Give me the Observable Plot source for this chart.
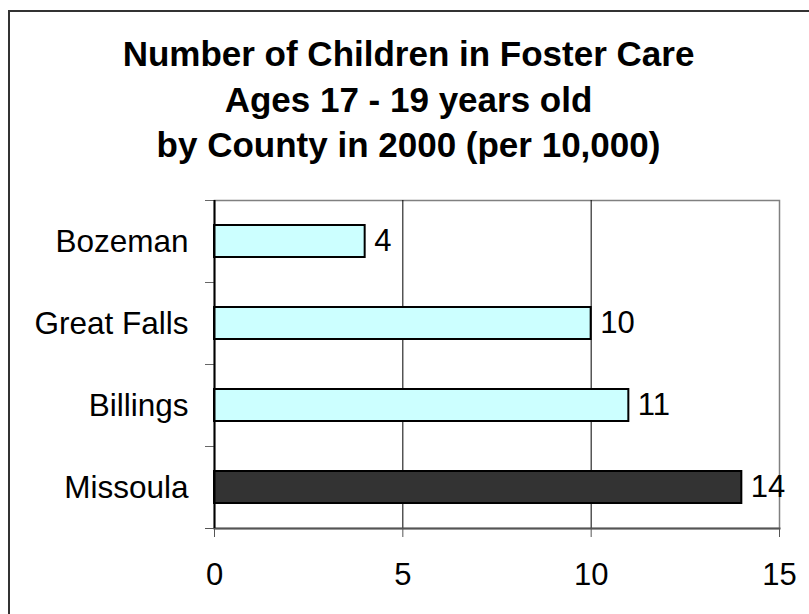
<!DOCTYPE html>
<html>
<head>
<meta charset="utf-8">
<script src="https://cdn.jsdelivr.net/npm/d3@7"></script>
<script src="https://cdn.jsdelivr.net/npm/@observablehq/plot@0.6"></script>
<style>
  html, body { margin: 0; padding: 0; width: 809px; height: 614px; overflow: hidden; background: #fff; }
  #border { position: absolute; left: 8px; top: 10px; width: 900px; height: 700px; border: 2px solid #333; box-sizing: border-box; }
  #title { position: absolute; left: 0; top: 31px; width: 817px; text-align: center; font-family: "Liberation Sans", Arial, sans-serif; font-weight: bold; font-size: 35px; line-height: 45.5px; color: #000; }
  #chart { position: absolute; left: 0; top: 180px; }
</style>
</head>
<body>
<div id="border"></div>
<div id="title">Number of Children in Foster Care<br>Ages 17 - 19 years old<br>by County in 2000 (per 10,000)</div>
<div id="chart"></div>
<script>
const counties = ["Bozeman", "Great Falls", "Billings", "Missoula"];
const values = [4, 10, 11, 14];
const barColors = ["#CCFFFF", "#CCFFFF", "#CCFFFF", "#333333"];
const xTicks = [0, 5, 10, 15];

const data = counties.map((c, i) => ({county: c, value: values[i], color: barColors[i]}));

const chart = Plot.plot({
  width: 809,
  height: 434,
  marginLeft: 214,
  marginRight: 30,
  marginTop: 20,
  marginBottom: 86,
  style: {fontFamily: "'Liberation Sans', Arial, sans-serif", fontSize: "31px", color: "#000", background: "transparent"},
  x: {domain: [0, 15], ticks: xTicks},
  y: {domain: counties, padding: 0},
  color: {type: "identity"},
  marks: [
    Plot.frame({stroke: "#808080", strokeWidth: 1.5}),
    Plot.ruleX(xTicks.filter(t => t > 0 && t < 15), {stroke: "#000", strokeWidth: 1}),
    Plot.barX(data, {x: "value", y: "county", fill: "color", stroke: "#000", strokeWidth: 2, insetTop: 25, insetBottom: 25}),
    Plot.text(data, {x: "value", y: "county", text: d => String(d.value), textAnchor: "start", dx: 9, fontSize: 31}),
    Plot.axisX({ticks: xTicks, tickSize: 9, tickPadding: 25, fontSize: 31, stroke: "#555", label: null}),
    Plot.axisY({tickSize: 0, tickPadding: 26, fontSize: 31.5, label: null}),
    Plot.axisY({tickSize: 9, fill: "none", stroke: "#666", dy: -41, label: null}),
    Plot.axisY({ticks: [counties[counties.length - 1]], tickSize: 9, fill: "none", stroke: "#555", dy: 41, label: null}),
    Plot.frame({anchor: "bottom", stroke: "#555", strokeWidth: 2}),
    Plot.ruleX([0], {stroke: "#000", strokeWidth: 2})
  ]
});
document.getElementById("chart").appendChild(chart);
</script>
</body>
</html>
